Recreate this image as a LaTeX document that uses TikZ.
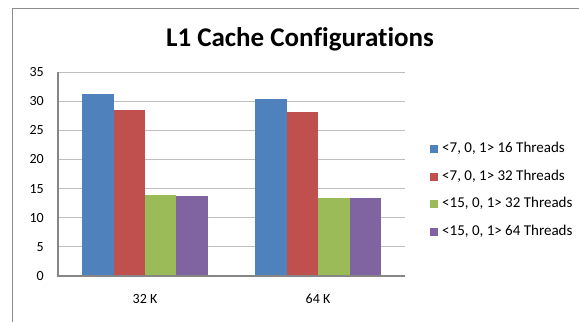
\documentclass[tikz,border=0pt]{standalone}
\usepackage{fontspec}
\setmainfont{Carlito}[Ligatures=NoCommon]
\definecolor{serA}{HTML}{4F81BD}
\definecolor{serB}{HTML}{C0504D}
\definecolor{serC}{HTML}{9BBB59}
\definecolor{serD}{HTML}{8064A2}
\definecolor{frameGray}{HTML}{8C8C8C}
\definecolor{axisGray}{HTML}{868686}
\definecolor{gridGray}{HTML}{BEBEBE}
\tikzset{
  chartframe/.style={draw=frameGray, line width=1pt},
  gridline/.style={draw=gridGray, line width=1pt},
  axisline/.style={draw=axisGray, line width=1.8pt},
  ticklabel/.style={anchor=east, inner sep=0pt, font=\fontsize{14}{16}\selectfont},
  catlabel/.style={anchor=base, inner sep=0pt, font=\fontsize{14}{16}\selectfont},
  legtext/.style={anchor=base west, inner sep=0pt, font=\fontsize{15}{17}\selectfont},
  legkey/.style={minimum size=8pt, inner sep=0pt, draw=none},
}
\begin{document}
\begin{tikzpicture}[x=1pt, y=-1pt]
\useasboundingbox (0,0) rectangle (579,322);
\fill[white] (0,0) rectangle (579,322);
% outer chart frame (continues beyond the right and bottom edges)
\draw[chartframe] (12,322) -- (12,8) -- (579,8);
% title
\node[anchor=base, inner sep=0pt, font=\fontsize{27}{30}\bfseries] (title) at (300,46) {L1 Cache Configurations};
% plot area: value axis from 0 (y=276) to 35 (y=72)
\begin{scope}[shift={(0,276)}, y=5.8286pt]
  \foreach \v in {5,10,...,35}
    \draw[gridline] (58,\v) -- (405,\v);
  \foreach \v in {0,5,...,35}
    \node[ticklabel] (tick\v) at (44,\v) {\v};
  % 32 K group
  \fill[serA] (82,0) rectangle (113.5,31.2);
  \fill[serB] (113.5,0) rectangle (144.5,28.5);
  \fill[serC] (144.5,0) rectangle (176,13.9);
  \fill[serD] (176,0) rectangle (208,13.7);
  % 64 K group
  \fill[serA] (255,0) rectangle (287,30.4);
  \fill[serB] (287,0) rectangle (318,28.1);
  \fill[serC] (318,0) rectangle (350,13.3);
  \fill[serD] (350,0) rectangle (381,13.4);
  \draw[axisline] (58,35) -- (58,0) -- (405,0);
\end{scope}
% category labels
\node[catlabel] (cat32) at (145,303) {32 K};
\node[catlabel] (cat64) at (318,303) {64 K};
% legend
\foreach \c/\t/\yy [count=\i] in {serA/{<7, 0,\ 1> 16 Threads}/149,
                                  serB/{<7, 0,\ 1> 32 Threads}/176.7,
                                  serC/{<15, 0,\ 1> 32 Threads}/204,
                                  serD/{<15, 0,\ 1> 64 Threads}/231.5}{
  \node[legkey, fill=\c] (key\i) at (433.5,\yy) {};
  \node[legtext] (leg\i) at (442,\yy+3.5) {\t};
}
\end{tikzpicture}
\end{document}
